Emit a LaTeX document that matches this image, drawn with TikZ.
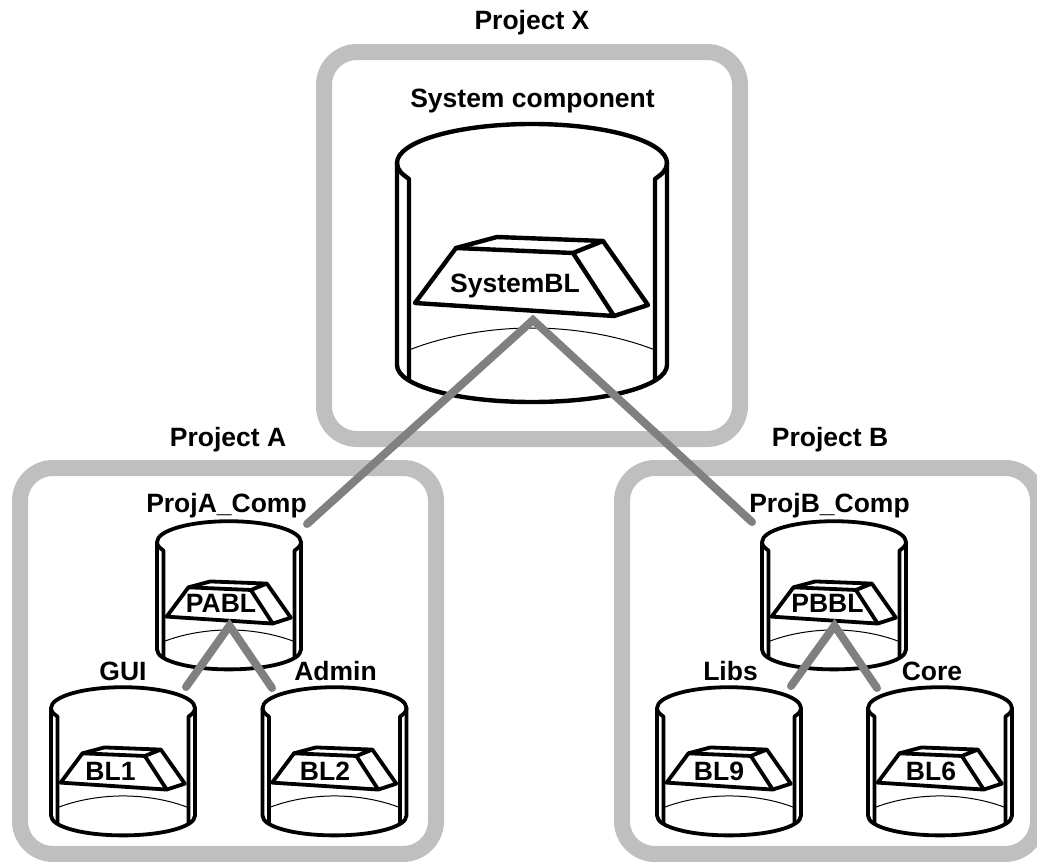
\documentclass[tikz,border=0pt]{standalone}
\usepackage{fontspec}
\setmainfont{Liberation Sans}
\definecolor{frameGray}{HTML}{BFBFBF}
\definecolor{linkGray}{HTML}{808080}
\tikzset{
  x=1pt,y=-1pt,
  frame/.style={draw=frameGray,line width=16pt,rounded corners=33pt,inner sep=0pt,minimum width=416pt},
  lab/.style={font=\fontsize{26.5}{30}\selectfont\bfseries,inner sep=0pt,anchor=base},
  outline/.style={draw=black,line join=round,line cap=round},
  thin rim/.style={draw=black,line width=1pt},
  link/.style={draw=linkGray,line width=8pt,line cap=round,line join=miter},
  bigbarrel/.style={line width=4.4pt},
  smallbarrel/.style={scale=.533,line width=3.8pt},
  pics/barrel/.style={code={
    \draw[outline] (-135,0) .. controls (-135,-21.5) and (-74.6,-39) .. (0,-39)
       .. controls (74.6,-39) and (135,-21.5) .. (135,0);
    \draw[outline] (-135,0) .. controls (-135,7) and (-130,11) .. (-123,16) -- (-123,216);
    \draw[outline] (135,0) .. controls (135,7) and (130,11) .. (123,16) -- (123,216);
    \draw[outline] (-135,0) -- (-135,202) .. controls (-135,223) and (-74.6,239) .. (0,239)
       .. controls (74.6,239) and (135,223) .. (135,202) -- (135,0);
    \draw[thin rim] (-123,187) .. controls (-85,172) and (-40,165) .. (0,165)
       .. controls (40,165) and (85,172) .. (123,187);
    \draw[outline] (-117,140) -- (-76,85) -- (41,90) -- (82,153) -- cycle;
    \draw[outline] (-76,85) -- (-35,74) -- (71,78) -- (41,90);
    \draw[outline] (71,78) -- (116,142) -- (82,153);
    \coordinate (-tip) at (1,157);
  }}
}
\begin{document}
\begin{tikzpicture}
\useasboundingbox (0,0) rectangle (1037,862);
\node[frame,minimum height=387pt] (fx) at (532,245.5) {};
\node[frame,minimum height=386pt] (fa) at (228,661) {};
\node[frame,minimum height=386pt] (fb) at (830,661) {};

\pic[bigbarrel] (sys) at (532,163) {barrel};
\pic[smallbarrel] (pa) at (229,542) {barrel};
\pic[smallbarrel] (gui) at (123,708) {barrel};
\pic[smallbarrel] (adm) at (334.5,708) {barrel};
\pic[smallbarrel] (pb) at (834,542) {barrel};
\pic[smallbarrel] (lib) at (729,708) {barrel};
\pic[smallbarrel] (cor) at (940,708) {barrel};

\node[lab] (tsys) at (515,292) {SystemBL};
\node[lab] (tpa) at (221,612) {PABL};
\node[lab] (tgui) at (110.5,780) {BL1};
\node[lab] (tadm) at (325,780) {BL2};
\node[lab] (tpb) at (827.5,612) {PBBL};
\node[lab] (tlib) at (719,780) {BL9};
\node[lab] (tcor) at (931,780) {BL6};

\node[lab] (px) at (532,30) {Project X};
\node[lab] (sc) at (532.5,107) {System component};
\node[lab] (pla) at (228,446) {Project A};
\node[lab] (plb) at (830,446) {Project B};
\node[lab] (ca) at (226.5,512) {ProjA\_Comp};
\node[lab] (cb) at (829.5,512) {ProjB\_Comp};
\node[lab] (lgui) at (123,680) {GUI};
\node[lab] (ladm) at (335.5,680) {Admin};
\node[lab] (llib) at (730.5,680) {Libs};
\node[lab] (lcor) at (932,680) {Core};

\coordinate (ea) at (307,524);
\coordinate (eb) at (752,522);
\coordinate (eg) at (186,687);
\coordinate (ead) at (272,688);
\coordinate (el) at (791,686);
\coordinate (ec) at (877,688);
\draw[link] (ea) -- (sys-tip) -- (eb);
\draw[link] (eg) -- (pa-tip) -- (ead);
\draw[link] (el) -- (pb-tip) -- (ec);
\end{tikzpicture}
\end{document}
